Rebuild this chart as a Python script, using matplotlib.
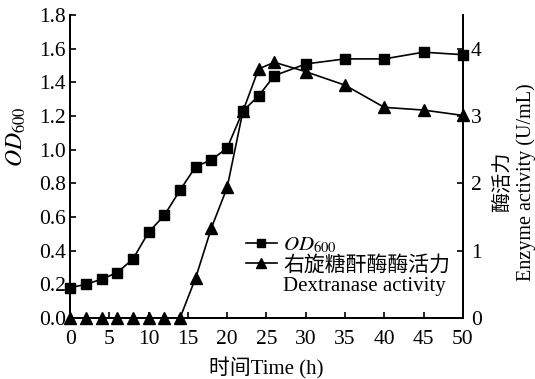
import matplotlib
matplotlib.use("Agg")
import matplotlib.pyplot as plt
from matplotlib.lines import Line2D

plt.rcParams['font.family'] = ['Liberation Serif', 'Noto Sans CJK SC']
plt.rcParams['mathtext.fontset'] = 'stix'

# OD600 growth curve
t_od = [0, 2, 4, 6, 8, 10, 12, 14, 16, 18, 20, 22, 24, 26, 30, 35, 40, 45, 50]
od = [0.18, 0.20, 0.23, 0.27, 0.35, 0.51, 0.61, 0.76, 0.90, 0.94, 1.01,
      1.23, 1.32, 1.44, 1.51, 1.54, 1.54, 1.58, 1.565]
od_err = [0.01, 0.0, 0.0, 0.0, 0.0, 0.0, 0.0, 0.02, 0.0, 0.025, 0.0,
          0.0, 0.025, 0.02, 0.025, 0.0, 0.0, 0.0, 0.015]

# enzyme activity (U/mL)
t_enz = [0, 2, 4, 6, 8, 10, 12, 14, 16, 18, 20, 22, 24, 26, 30, 35, 40, 45, 50]
enz = [0, 0, 0, 0, 0, 0, 0, 0, 0.6, 1.34, 1.94, 3.07, 3.70, 3.80, 3.66,
       3.46, 3.13, 3.09, 3.01]

xticks = [0, 5, 10, 15, 20, 25, 30, 35, 40, 45, 50]
yticks_left = [0.0, 0.2, 0.4, 0.6, 0.8, 1.0, 1.2, 1.4, 1.6, 1.8]
yticks_right = [0, 1, 2, 3, 4]

fig = plt.figure(figsize=(5.35, 3.79), dpi=100)
ax = fig.add_axes([0.131, 0.161, 0.734, 0.799])
ax2 = ax.twinx()

ax.errorbar(t_od, od, yerr=od_err, color='black', marker='s', ms=6.5,
            lw=1.2, capsize=2.5, elinewidth=1, clip_on=False, zorder=3)
ax2.plot(t_enz, enz, color='black', marker='^', ms=8, lw=1.2,
         clip_on=False, zorder=3)

ax.set_xlim(0, 50)
ax.set_ylim(0, 1.8)
ax2.set_ylim(0, 4.5)
ax.set_xticks(xticks)
ax.set_yticks(yticks_left)
ax.set_yticklabels(['%.1f' % v for v in yticks_left])
ax2.set_yticks(yticks_right)

for a in (ax, ax2):
    a.tick_params(direction='in', labelsize=15.5, width=1.2, length=4)
    for s in a.spines.values():
        s.set_linewidth(1.3)
ax.spines['top'].set_visible(False)
ax2.spines['top'].set_visible(False)
ax.tick_params(axis='x', pad=9)
ax.tick_params(axis='y', pad=3)
ax2.tick_params(axis='y', pad=6)

ax.set_xlabel('时间Time (h)', fontsize=15, labelpad=6)
ax.set_ylabel(r'$\mathit{OD}_{\mathrm{600}}$', fontsize=17)
ax.yaxis.set_label_coords(-0.108, 0.6)
ax2.set_ylabel('酶活力\nEnzyme activity (U/mL)', fontsize=14.5,
               linespacing=1.2)
ax2.yaxis.set_label_coords(1.08, 0.45)

# legend: third row is text only, under the activity entry
handles = [
    Line2D([], [], color='black', marker='s', ms=6, lw=1.2),
    Line2D([], [], color='black', marker='^', ms=7.5, lw=1.2),
    Line2D([], [], color='none'),
]
labels = [r'$\mathit{OD}_{\mathrm{600}}$', '右旋糖酐酶酶活力', 'Dextranase activity']
ax2.legend(handles, labels, loc='lower right', bbox_to_anchor=(1.0, 0.03),
           frameon=False, fontsize=15, handlelength=1.5, handletextpad=0.3,
           labelspacing=0.05, borderaxespad=0.2)

fig.savefig('out.png', dpi=100)
